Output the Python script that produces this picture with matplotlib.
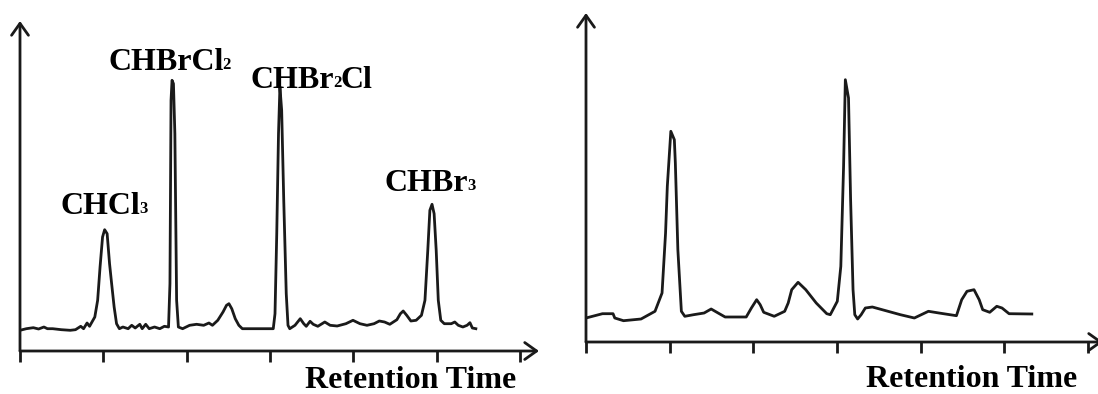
import matplotlib
matplotlib.use("Agg")
import matplotlib.pyplot as plt

plt.rcParams['font.family'] = 'Liberation Serif'
plt.rcParams['font.weight'] = 'bold'

# left chromatogram (standards)
t_left = [0.00, 0.076, 0.160, 0.223, 0.287, 0.329, 0.392, 0.497, 0.603, 0.666,
          0.729, 0.763, 0.805, 0.835, 0.864, 0.898, 0.932, 0.961, 0.991, 1.016,
          1.046, 1.075, 1.100, 1.130, 1.159, 1.193, 1.235, 1.298, 1.341, 1.383,
          1.438, 1.467, 1.509, 1.551, 1.615, 1.678, 1.733, 1.783, 1.800, 1.813,
          1.825, 1.842, 1.859, 1.880, 1.901, 1.952, 2.036, 2.120, 2.205, 2.268,
          2.310, 2.374, 2.437, 2.479, 2.508, 2.542, 2.584, 2.627, 2.669, 2.795,
          2.964, 3.040, 3.061, 3.082, 3.103, 3.120, 3.141, 3.166, 3.196, 3.217,
          3.238, 3.301, 3.364, 3.406, 3.436, 3.482, 3.520, 3.575, 3.659, 3.723,
          3.807, 3.912, 3.997, 4.081, 4.165, 4.250, 4.313, 4.376, 4.439, 4.524,
          4.566, 4.600, 4.642, 4.692, 4.755, 4.819, 4.861, 4.895, 4.920, 4.946,
          4.971, 4.996, 5.021, 5.051, 5.093, 5.177, 5.219, 5.261, 5.316, 5.367,
          5.401, 5.430, 5.472]
s_left = [20.7, 22.3, 23.3, 22.0, 24.0, 22.3, 22.3, 21.3, 20.7, 21.3,
          24.7, 22.3, 28.0, 24.7, 29.0, 34.0, 50.7, 84.0, 114.0, 121.3,
          117.3, 87.3, 67.3, 44.0, 27.3, 22.3, 24.0, 22.3, 25.7, 23.0,
          26.7, 22.3, 26.7, 22.3, 24.0, 22.3, 24.7, 24.0, 67.3, 250.7,
          270.7, 267.3, 217.3, 50.7, 24.0, 22.3, 25.7, 26.7, 25.7, 28.0,
          25.7, 30.7, 39.0, 45.7, 47.3, 42.3, 32.3, 25.7, 22.3, 22.3,
          22.3, 22.3, 37.3, 117.3, 217.3, 264.0, 240.7, 150.7, 57.3, 25.7,
          22.3, 25.7, 32.3, 27.3, 24.7, 29.7, 26.7, 24.7, 29.0, 25.7,
          25.0, 27.3, 30.7, 27.3, 25.7, 27.3, 30.0, 29.0, 26.7, 31.3,
          37.3, 40.0, 35.7, 30.0, 30.7, 35.7, 50.7, 100.7, 140.7, 146.7,
          137.3, 100.7, 50.7, 30.7, 27.3, 27.3, 29.0, 25.7, 24.0, 25.7,
          28.3, 23.0, 22.3]

# right chromatogram (sample)
t_right = [0.000, 0.197, 0.323, 0.344, 0.448, 0.658, 0.825, 0.909, 0.951, 0.972,
           1.014, 1.056, 1.068, 1.098, 1.140, 1.181, 1.286, 1.412, 1.496, 1.579,
           1.663, 1.915, 1.977, 2.040, 2.082, 2.124, 2.250, 2.375, 2.417, 2.459,
           2.535, 2.627, 2.752, 2.878, 2.920, 3.004, 3.046, 3.079, 3.100, 3.138,
           3.163, 3.192, 3.213, 3.247, 3.289, 3.339, 3.423, 3.758, 3.925, 4.093,
           4.219, 4.428, 4.491, 4.554, 4.638, 4.700, 4.742, 4.826, 4.910, 4.973,
           5.057, 5.329]
s_right = [24.0, 28.3, 28.3, 24.0, 21.3, 23.0, 30.7, 49.0, 109.0, 155.7,
           210.7, 202.3, 179.0, 92.3, 30.7, 25.7, 27.3, 29.0, 33.0, 29.0,
           25.0, 25.0, 34.0, 42.3, 37.3, 29.7, 25.7, 30.7, 39.0, 52.3,
           59.7, 52.3, 39.0, 28.3, 27.3, 40.7, 75.7, 175.7, 262.3, 244.0,
           142.3, 52.3, 27.3, 23.0, 27.3, 34.0, 35.0, 27.3, 24.0, 30.7,
           29.0, 26.3, 42.3, 50.7, 52.3, 42.3, 32.3, 29.7, 35.7, 34.0,
           28.3, 28.0]

# peak labels: pieces alternate normal / subscript
peak_names = [['CHCl', '3'], ['CHBrCl', '2'], ['CHBr', '2', 'Cl'], ['CHBr', '3']]
name_x = [0.49, 1.06, 2.77, 4.38]
name_y = [137, 281, 263, 160]

ticks = [0, 1, 2, 3, 4, 5, 6]
line_col = '#1a1a1a'
big = 23
small = 12

fig = plt.figure(figsize=(10.98, 3.94), dpi=100)
ax1 = fig.add_axes([20 / 1098, 43 / 394, 519 / 1098, 330 / 394])
ax2 = fig.add_axes([586 / 1098, 52 / 394, 517 / 1098, 329 / 394])


def style_axes(ax, xmax, ymax):
    ax.set_xlim(0, xmax)
    ax.set_ylim(0, ymax)
    for sp in ax.spines.values():
        sp.set_visible(False)
    ax.set_xticks(ticks)
    ax.set_xticklabels([])
    ax.set_yticks([])
    ax.tick_params(axis='x', direction='out', length=8, width=2.0,
                   color=line_col)
    arrow = dict(arrowstyle='->, head_length=0.45, head_width=0.32',
                 lw=2.0, color=line_col, shrinkA=0, shrinkB=0,
                 mutation_scale=19)
    ax.annotate('', xy=(1, 0), xytext=(0, 0), xycoords='axes fraction',
                arrowprops=arrow, annotation_clip=False)
    ax.annotate('', xy=(0, 1), xytext=(0, 0), xycoords='axes fraction',
                arrowprops=arrow, annotation_clip=False)


def chem_label(ax, pieces, x, y):
    prev = ax.text(x, y, pieces[0], fontsize=big, fontweight='bold',
                   ha='left', va='baseline')
    for i, p in enumerate(pieces[1:], start=1):
        if i % 2 == 1:
            # subscript, sits just about on the baseline
            prev = ax.annotate(p, xy=(1, 0), xycoords=prev, xytext=(-0.8, 3.0),
                               textcoords='offset points', fontsize=small,
                               fontweight='bold', ha='left', va='bottom')
        else:
            prev = ax.annotate(p, xy=(1, 0), xycoords=prev, xytext=(-0.6, -3.0),
                               textcoords='offset points', fontsize=big,
                               fontweight='bold', ha='left', va='bottom')


style_axes(ax1, 6.23, 330)
style_axes(ax2, 6.18, 329)

ax1.plot(t_left, s_left, color=line_col, lw=2.0, solid_joinstyle='round')
ax2.plot(t_right, s_right, color=line_col, lw=2.0, solid_joinstyle='round')

for pieces, x, y in zip(peak_names, name_x, name_y):
    chem_label(ax1, pieces, x, y)

ax1.text(5.96, -37, 'Retention Time', fontsize=big, fontweight='bold',
         ha='right', va='baseline', clip_on=False)
ax2.text(5.87, -45, 'Retention Time', fontsize=big, fontweight='bold',
         ha='right', va='baseline', clip_on=False)

fig.savefig('out.png', dpi=100)
